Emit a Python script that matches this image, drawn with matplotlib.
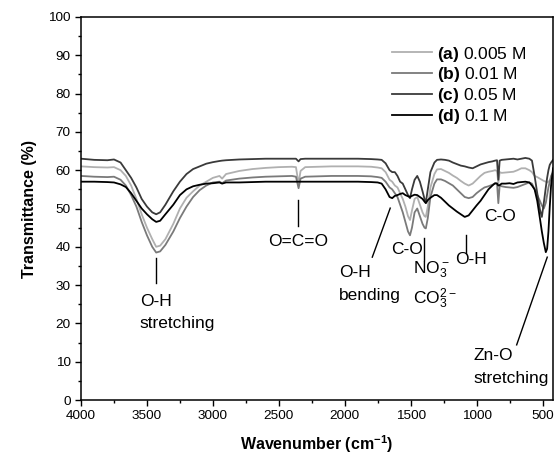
import matplotlib
matplotlib.use("Agg")
import matplotlib.pyplot as plt
from matplotlib.ticker import MultipleLocator

plt.rcParams['font.family'] = ['Liberation Sans', 'DejaVu Sans']
plt.rcParams['mathtext.fontset'] = 'custom'
plt.rcParams['mathtext.rm'] = 'Liberation Sans'
plt.rcParams['mathtext.it'] = 'Liberation Sans:italic'
plt.rcParams['mathtext.bf'] = 'Liberation Sans:bold'

# ---- data ----
wavenumber = [
    4000, 3900, 3800, 3750, 3700, 3660, 3620, 3580, 3540, 3500,
    3460, 3430, 3400, 3360, 3300, 3250, 3200, 3150, 3100, 3050,
    3000, 2950, 2930, 2900, 2800, 2700, 2600, 2500, 2400, 2370,
    2350, 2335, 2300, 2200, 2100, 2000, 1900, 1800, 1750, 1720,
    1690, 1660, 1640, 1620, 1600, 1580, 1560, 1540, 1520, 1505,
    1490, 1470, 1450, 1430, 1410, 1395, 1385, 1370, 1350, 1320,
    1300, 1270, 1240, 1210, 1180, 1150, 1120, 1090, 1060, 1030,
    1000, 970, 940, 910, 880, 860, 845, 835, 825, 810,
    780, 750, 720, 690, 660, 630, 600, 580, 560, 540,
    520, 505, 490, 475, 465, 455, 445, 435, 420,
]

trans_a = [
    61.0, 60.8, 60.7, 60.8, 60.0, 58.5, 56.0, 52.5, 48.5, 45.0,
    42.0, 40.0, 40.3, 42.0, 46.0, 50.0, 52.8, 54.5, 56.0, 57.0,
    58.0, 58.5, 57.8, 59.0, 59.8, 60.3, 60.6, 60.8, 60.9, 60.8,
    56.5, 59.8, 60.8, 60.9, 61.0, 61.0, 61.0, 60.9, 60.7, 60.5,
    59.5, 57.5, 57.0, 56.0, 55.5, 54.0, 52.5, 50.5, 48.0, 47.0,
    49.5, 52.5, 53.0, 51.0, 49.0, 48.0, 47.8, 50.5, 55.5, 59.0,
    60.2, 60.3, 59.8, 59.3, 58.6, 58.0, 57.2, 56.5, 56.0, 56.5,
    57.5, 58.5, 59.3, 59.6, 59.8, 60.0, 59.8, 56.5, 59.5, 59.3,
    59.4, 59.5, 59.6, 60.0, 60.5, 60.5, 60.0, 59.5, 58.5, 58.2,
    57.8, 57.5, 57.2, 57.0, 56.8, 57.0, 57.3, 57.8, 58.0,
]

trans_b = [
    58.5, 58.3, 58.2, 58.3, 57.5, 56.0, 53.5, 50.5, 46.5, 43.0,
    40.0, 38.5, 38.8, 40.5, 44.0, 47.5, 50.5, 53.0, 54.8, 56.0,
    56.8, 57.0, 56.6, 57.3, 57.8, 58.1, 58.3, 58.4, 58.5, 58.3,
    55.3, 57.8, 58.3, 58.4, 58.5, 58.5, 58.5, 58.4, 58.2, 58.0,
    57.0, 55.5, 55.0, 54.0, 53.0, 51.0, 49.0, 46.5, 44.0, 43.0,
    45.0, 49.0, 50.0, 48.0, 46.0, 45.0, 44.8, 47.5, 53.0, 56.5,
    57.6, 57.6, 57.2, 56.6, 56.0, 55.0, 54.0, 53.0, 52.7, 53.0,
    54.0, 54.8, 55.5, 55.8, 56.2, 56.5, 56.6, 51.4, 56.0, 55.8,
    55.6, 55.5, 55.4, 55.6, 56.0, 56.4, 56.8, 56.5, 55.0, 53.5,
    52.0, 50.8, 50.0, 51.5, 53.5, 55.5, 57.0, 58.5, 59.5,
]

trans_c = [
    63.0, 62.7, 62.6, 62.8, 62.0, 60.0, 58.0, 55.5, 52.5, 50.5,
    49.0, 48.5, 49.0, 51.0, 54.5, 57.0, 59.0, 60.3, 61.0, 61.7,
    62.1, 62.4, 62.5, 62.6, 62.8, 62.9, 63.0, 63.0, 63.0, 63.0,
    62.3, 62.9, 63.0, 63.0, 63.0, 63.0, 63.0, 62.9, 62.8, 62.7,
    61.8, 60.0, 59.5, 59.5, 58.5, 57.0, 56.5, 55.0, 53.5, 52.7,
    55.0, 57.5, 58.5, 57.0, 54.5, 52.5, 51.5, 55.0, 59.5, 62.0,
    62.7, 62.8, 62.7, 62.5, 62.0, 61.6, 61.2, 61.0, 60.7, 60.5,
    61.0, 61.5, 61.8, 62.1, 62.3, 62.5, 62.6, 57.5, 62.5, 62.7,
    62.8, 62.9, 63.0, 62.8, 63.0, 63.2, 63.0, 62.5, 58.5, 54.0,
    49.8, 47.8, 51.5, 55.5, 58.0, 60.0, 61.4, 62.0, 62.7,
]

trans_d = [
    57.0, 57.0, 56.9, 56.8, 56.3, 55.6, 54.0, 52.0, 50.0, 48.5,
    47.2, 46.5, 46.8, 48.5, 51.0, 53.5, 55.0, 55.8, 56.2, 56.5,
    56.6, 56.8, 56.5, 56.8, 56.8, 56.9, 57.0, 57.0, 57.0, 57.0,
    57.0, 57.0, 57.0, 57.0, 57.0, 57.0, 57.0, 56.9, 56.8, 56.5,
    55.0, 53.0, 52.7, 53.3, 53.5, 53.8, 54.0, 53.5, 53.2, 53.0,
    53.3, 53.6, 53.5, 53.0, 52.5, 51.8, 51.4, 52.2, 52.8, 53.5,
    53.5, 52.8, 51.8, 50.8, 50.0, 49.2, 48.5, 47.8, 48.2, 49.5,
    50.8, 52.0, 53.5, 55.0, 56.0, 56.6, 56.5, 56.0, 56.1, 56.5,
    56.5, 56.6, 56.4, 56.8, 56.9, 57.0, 56.8, 56.0, 55.0, 52.0,
    47.5, 44.0, 41.0, 38.6, 39.5, 44.0, 50.5, 56.0, 60.5,
]

series_labels = [r"$\mathbf{(a)}$ 0.005 M", r"$\mathbf{(b)}$ 0.01 M",
                 r"$\mathbf{(c)}$ 0.05 M", r"$\mathbf{(d)}$ 0.1 M"]
series_colors = ["#b0b0b0", "#7a7a7a", "#3a3a3a", "#000000"]

# ---- figure ----
fig = plt.figure(figsize=(5.55, 4.59), dpi=100)
ax = fig.add_axes([0.146, 0.1285, 0.8505, 0.8345])

for ys, lab, col in zip([trans_a, trans_b, trans_c, trans_d], series_labels, series_colors):
    ax.plot(wavenumber, ys, color=col, lw=1.3, label=lab)

ax.set_xlim(4000, 420)
ax.set_ylim(0, 100)
ax.xaxis.set_major_locator(MultipleLocator(500))
ax.xaxis.set_minor_locator(MultipleLocator(250))
ax.yaxis.set_major_locator(MultipleLocator(10))
ax.yaxis.set_minor_locator(MultipleLocator(5))
ax.tick_params(which='major', direction='out', length=4, width=1, labelsize=9.7)
ax.tick_params(which='minor', direction='out', length=2.5, width=1)
for sp in ax.spines.values():
    sp.set_linewidth(1.1)

ax.set_xlabel(r"$\mathbf{Wavenumber\ (cm^{-1})}$", fontsize=11.5, labelpad=8)
ax.set_ylabel("Transmittance (%)", fontsize=11.5, fontweight='bold', labelpad=8)

ax.legend(loc='upper left', bbox_to_anchor=(0.659, 0.928), frameon=False,
          fontsize=12.5, handlelength=2.3, handletextpad=0.3, labelspacing=0.1,
          borderpad=0, borderaxespad=0)

# ---- band annotations ----
fs = 12.5
ax.plot([3433, 3433], [37.1, 30.5], color='black', lw=1)
ax.text(3554, 25.6, "O-H", fontsize=fs, va='center', ha='left')
ax.text(3554, 20.1, "stretching", fontsize=fs, va='center', ha='left')

ax.plot([2351, 2351], [52.2, 45.4], color='black', lw=1)
ax.text(2351, 41.5, "O=C=O", fontsize=fs, va='center', ha='center')

ax.plot([1655, 1791], [50.1, 37.3], color='black', lw=1)
ax.text(2041, 33.4, "O-H", fontsize=fs, va='center', ha='left')
ax.text(2041, 27.4, "bending", fontsize=fs, va='center', ha='left')

ax.plot([1398, 1398], [42.3, 36.6], color='black', lw=1)
ax.text(1648, 39.2, "C-O", fontsize=fs, va='center', ha='left')
ax.text(1481, 33.9, r"NO$_3^-$", fontsize=fs, va='center', ha='left')
ax.text(1481, 26.4, r"CO$_3^{2-}$", fontsize=fs, va='center', ha='left')

ax.plot([1080, 1080], [43.1, 38.4], color='black', lw=1)
ax.text(1163, 36.6, "O-H", fontsize=fs, va='center', ha='left')

ax.text(944, 48.0, "C-O", fontsize=fs, va='center', ha='left')

ax.plot([464, 696], [37.3, 14.4], color='black', lw=1)
ax.text(1027, 11.7, "Zn-O", fontsize=fs, va='center', ha='left')
ax.text(1027, 5.7, "stretching", fontsize=fs, va='center', ha='left')

fig.savefig("out.png", dpi=100)
